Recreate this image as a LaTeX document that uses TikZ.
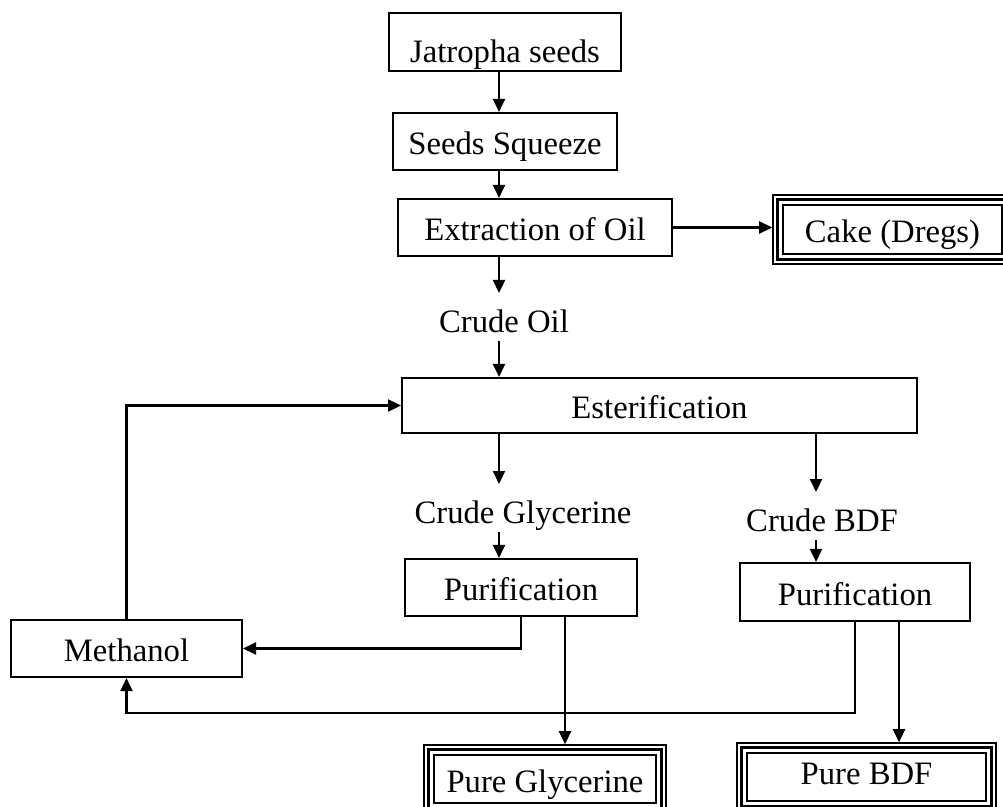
\documentclass[tikz,border=0pt]{standalone}
\usepackage{fontspec}
\setmainfont{Liberation Serif}
\usetikzlibrary{arrows.meta,positioning,calc}

% thick + thin inner rules of a product box
\newcommand{\tripleframe}[1]{%
  \draw[line width=1.9pt] ([shift={(0.1cm,-0.1cm)}]#1.north west)
    rectangle ([shift={(-0.1cm,0.1cm)}]#1.south east);
  \draw[line width=0.9pt] ([shift={(0.22cm,-0.22cm)}]#1.north west)
    rectangle ([shift={(-0.22cm,0.22cm)}]#1.south east);}

\begin{document}
\begin{tikzpicture}[
  x=0.02cm,y=-0.02cm,
  font=\fontsize{18.6pt}{22pt}\selectfont,
  ar/.style={-{Triangle[length=0.26cm,width=0.24cm]},line width=1.3pt},
  box/.style={draw,line width=1.2pt,inner sep=0pt,text height=16pt,text depth=1pt},
  prod/.style={draw,line width=0.9pt,inner sep=0pt,text height=16pt,text depth=1pt},
  lbl/.style={inner sep=0pt,text height=22pt,text depth=5.2pt,anchor=base},
]
\useasboundingbox (0,0) rectangle (1003,807);
\clip (0,0) rectangle (1003,807);

% ============================================================ pressing
\node[box,minimum width=4.64cm,text height=1.0cm,text depth=0.16cm] (jat) at (505,42) {Jatropha seeds};
\node[box,minimum width=4.48cm,minimum height=1.14cm] (squeeze) at (505,141.5) {Seeds Squeeze};
\node[box,minimum width=5.48cm,minimum height=1.14cm] (extract) at (535,227.5) {Extraction of Oil};
\node[prod,minimum width=4.78cm,minimum height=1.38cm] (cake) at (892.5,229.5) {Cake (Dregs)};
\tripleframe{cake}
\node[lbl] (crudeoil) at (504,332) {Crude Oil};

% ============================================================ reaction
\node[box,minimum width=10.3cm,minimum height=1.1cm] (ester) at (659.5,405.5) {Esterification};
\node[lbl] (crudeg) at (523,523) {Crude Glycerine};
\node[lbl] (crudeb) at (822,531) {Crude BDF};
\node[box,minimum width=4.64cm,minimum height=1.14cm] (puri1) at (521,587.5) {Purification};
\node[box,minimum width=4.6cm,minimum height=1.16cm] (puri2) at (855,592) {Purification};
\node[box,minimum width=4.62cm,minimum height=1.14cm] (meth) at (126.5,648.5) {Methanol};

% ============================================================ products
\node[prod,minimum width=4.84cm,minimum height=1.36cm] (pureg) at (545,779) {Pure Glycerine};
\tripleframe{pureg}
\node[prod,minimum width=5.18cm,minimum height=1.36cm,text height=12.9pt,text depth=4pt] (pureb) at (866.5,777) {Pure BDF};
\tripleframe{pureb}

% ============================================================ flows
\coordinate (spine) at (499,0);
\coordinate (bdfin) at (816,0);
\coordinate (glyout) at (565,0);
\coordinate (bdfout) at (899,0);
\coordinate (ret) at (0,713);

\draw[ar] (jat.south -| spine) -- (squeeze.north -| spine);
\draw[ar] (squeeze.south -| spine) -- (extract.north -| spine);
\draw[ar] (extract.east) -- (extract.east -| cake.west);
\draw[ar] (extract.south -| spine) -- (crudeoil.north -| spine);
\draw[ar] (crudeoil.south -| spine) -- (ester.north -| spine);
\draw[ar] (meth.north) |- (ester.west);
\draw[ar] (ester.south -| spine) -- (crudeg.north -| spine);
\draw[ar] (crudeg.south -| spine) -- (puri1.north -| spine);
\draw[ar] (ester.south -| bdfin) -- (crudeb.north -| bdfin);
\draw[ar] (crudeb.south -| bdfin) -- (puri2.north -| bdfin);
% methanol recovered from both purifications
\draw[ar] (puri1.south) |- (meth.east);
\draw[ar] (puri2.south) -- (puri2.south |- ret) -| (meth.south);
\draw[ar] (puri1.south -| glyout) -- (pureg.north -| glyout);
\draw[ar] (puri2.south -| bdfout) -- (pureb.north -| bdfout);

\end{tikzpicture}
\end{document}
